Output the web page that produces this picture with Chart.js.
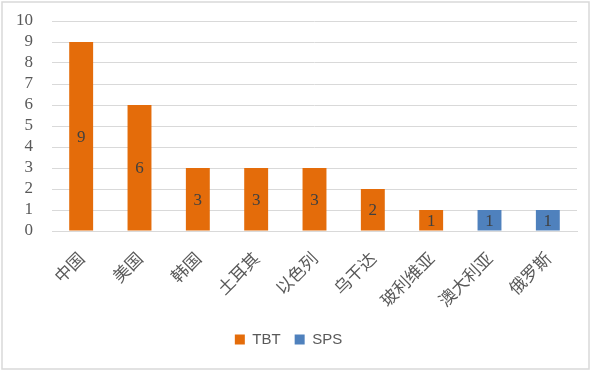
<!DOCTYPE html>
<html>
<head>
<meta charset="utf-8">
<script src="https://cdn.jsdelivr.net/npm/chart.js@4/dist/chart.umd.min.js"></script>
<style>
  html, body { margin: 0; padding: 0; background: #fff; }
  #wrap { width: 591px; height: 371px; position: relative; }
</style>
</head>
<body>
<div id="wrap"><canvas id="chart" width="591" height="371"></canvas></div>
<script>
// chart data
const countries = ['中国', '美国', '韩国', '土耳其', '以色列', '乌干达', '玻利维亚', '澳大利亚', '俄罗斯'];
const tbtValues = [9, 6, 3, 3, 3, 2, 1, 0, 0];
const spsValues = [0, 0, 0, 0, 0, 0, 0, 1, 1];
const yTicks = [0, 1, 2, 3, 4, 5, 6, 7, 8, 9, 10];

const ctx = document.getElementById('chart').getContext('2d');

// writes the value in the middle of each bar
const barLabels = {
  id: 'barLabels',
  afterDatasetsDraw(chart) {
    const c = chart.ctx;
    c.save();
    c.font = '17px "Liberation Serif", serif';
    c.fillStyle = '#404040';
    c.textAlign = 'center';
    c.textBaseline = 'middle';
    chart.data.datasets.forEach((ds, i) => {
      const meta = chart.getDatasetMeta(i);
      meta.data.forEach((bar, j) => {
        const v = ds.data[j];
        if (!v) return;
        c.fillText(String(v), bar.x, (bar.y + bar.base) / 2 + 1);
      });
    });
    c.restore();
  }
};

// thin grey frame round the whole chart
const frame = {
  id: 'frame',
  afterDraw(chart) {
    const c = chart.ctx;
    c.save();
    c.strokeStyle = '#d9d9d9';
    c.lineWidth = 1.5;
    c.strokeRect(2, 2, chart.width - 4, chart.height - 4);
    c.restore();
  }
};

new Chart(ctx, {
  type: 'bar',
  data: {
    labels: countries,
    datasets: [
      { label: 'TBT', data: tbtValues, backgroundColor: '#e46c0a', barPercentage: 0.82, categoryPercentage: 0.5 },
      { label: 'SPS', data: spsValues, backgroundColor: '#4f81bd', barPercentage: 0.82, categoryPercentage: 0.5 }
    ]
  },
  options: {
    responsive: false,
    animation: false,
    layout: { padding: { left: 0, right: 14, top: 0, bottom: 14 } },
    plugins: {
      tooltip: { enabled: false },
      legend: {
        position: 'bottom',
        labels: {
          boxWidth: 10,
          boxHeight: 10,
          padding: 14,
          color: '#595959',
          font: { family: '"Liberation Sans", sans-serif', size: 15 }
        }
      }
    },
    scales: {
      x: {
        stacked: true,
        grid: { display: false },
        border: { color: '#d9d9d9' },
        afterFit(scale) { scale.height = 87; },
        ticks: {
          maxRotation: 45,
          minRotation: 45,
          autoSkip: false,
          padding: 9,
          color: '#595959',
          font: { family: '"Noto Sans CJK SC", sans-serif', size: 17 }
        }
      },
      y: {
        stacked: true,
        min: 0,
        max: 10,
        border: { display: false },
        grid: { color: '#d9d9d9', drawTicks: false },
        afterFit(scale) {
          scale.width = 52;
          scale.paddingTop = 21;
          scale.paddingBottom = 0;
        },
        afterBuildTicks(scale) { scale.ticks = yTicks.map(v => ({ value: v })); },
        ticks: {
          autoSkip: false,
          padding: 19,
          color: '#595959',
          font: { family: '"Liberation Serif", serif', size: 17 }
        }
      }
    }
  },
  plugins: [barLabels, frame]
});
</script>
</body>
</html>
